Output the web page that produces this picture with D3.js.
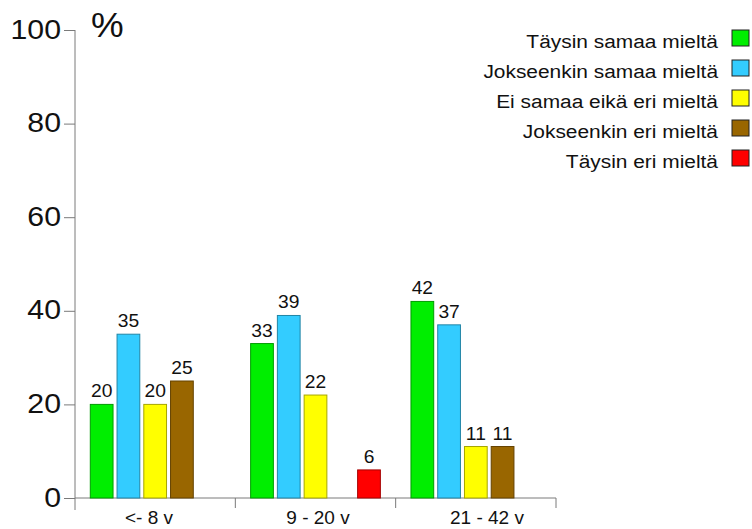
<!DOCTYPE html>
<html>
<head>
<meta charset="utf-8">
<script src="https://cdn.jsdelivr.net/npm/d3@7"></script>
<style>
  html, body { margin: 0; padding: 0; background: #fff; }
  svg { display: block; font-family: "Liberation Sans", Arial, sans-serif; }
</style>
</head>
<body>
<svg id="chart" width="752" height="529"></svg>
<script>
// Groups (years) and the five answer options
const groups = ["<- 8 v", "9 - 20 v", "21 - 42 v"];
const series = ["Täysin samaa mieltä", "Jokseenkin samaa mieltä", "Ei samaa eikä eri mieltä", "Jokseenkin eri mieltä", "Täysin eri mieltä"];
const colors = ["#00ee00", "#33ccff", "#ffff00", "#996600", "#ff0000"];
// Percentages per group, in series order (null = no bar)
const values = [
  [20, 35, 20, 25, null],
  [33, 39, 22, null, 6],
  [42, 37, 11, 11, null]
];
const yTicks = [0, 20, 40, 60, 80, 100];

const svg = d3.select("#chart");
const axisColor = "#7a7a7a";
const ink = "#111";

const x0 = d3.scaleBand().domain(groups).range([75, 556]).padding(0);
const x1 = d3.scaleBand().domain(series)
  .range([15.3, x0.bandwidth() - 15.3]).paddingInner(0.15).paddingOuter(0);
const y = d3.scaleLinear().domain([0, 100]).range([498, 30]);
// category captions sit on their own, slightly wider spacing
const xCap = d3.scalePoint().domain(groups).range([149, 487]);

// horizontally widened text helper
function wideText(sel, sx) {
  return sel.attr("transform", function () {
    const t = d3.select(this);
    return `translate(${t.attr("data-x")},${t.attr("data-y")}) scale(${sx},1)`;
  });
}

// Y axis
const yAxis = d3.axisLeft(y).tickValues(yTicks).tickSize(11).tickPadding(3);
const gy = svg.append("g").attr("transform", "translate(75,0)").call(yAxis);
gy.select(".domain").remove();
gy.selectAll(".tick line").attr("stroke", axisColor);
gy.selectAll(".tick text").attr("fill", ink).attr("font-size", 28).attr("dy", "0.29em")
  .attr("font-family", "Liberation Sans, Arial, sans-serif")
  .attr("x", null)
  .attr("transform", "translate(-14,0) scale(1.08,1)");
svg.append("line").attr("x1", 75).attr("x2", 75).attr("y1", 30).attr("y2", 510)
  .attr("stroke", axisColor);

svg.append("text").attr("transform", "translate(91,37) scale(1.05,1)")
  .attr("font-size", 35).attr("fill", ink).text("%");

// X axis with separators between groups
svg.append("line").attr("x1", 75).attr("x2", 556).attr("y1", y(0)).attr("y2", y(0))
  .attr("stroke", axisColor);
groups.forEach(g => {
  const xe = x0(g) + x0.bandwidth();
  svg.append("line").attr("x1", xe).attr("x2", xe).attr("y1", y(0)).attr("y2", y(0) + 10)
    .attr("stroke", axisColor);
});
svg.selectAll(".cat").data(groups).join("text")
  .attr("class", "cat")
  .attr("x", d => xCap(d)).attr("y", 524)
  .attr("text-anchor", "middle").attr("font-size", 19).attr("fill", ink)
  .text(d => d);

// Bars
const cells = [];
groups.forEach((g, gi) => series.forEach((s, si) => {
  if (values[gi][si] != null) cells.push({ g, s, si, v: values[gi][si] });
}));
const bars = svg.append("g");
bars.selectAll("rect").data(cells).join("rect")
  .attr("x", d => x0(d.g) + x1(d.s))
  .attr("y", d => y(d.v))
  .attr("width", x1.bandwidth())
  .attr("height", d => y(0) - y(d.v))
  .attr("fill", d => colors[d.si])
  .attr("stroke", d => d3.color(colors[d.si]).darker(1.2))
  .attr("stroke-width", 1);
bars.selectAll("text").data(cells).join("text")
  .attr("data-x", d => x0(d.g) + x1(d.s) + x1.bandwidth() / 2)
  .attr("data-y", d => y(d.v) - 7)
  .attr("text-anchor", "middle").attr("font-size", 17.5).attr("fill", ink)
  .text(d => d.v)
  .call(wideText, 1.1);

// Legend
const leg = svg.append("g");
series.forEach((s, i) => {
  const cy = 38 + i * 30;
  leg.append("rect").attr("x", 732).attr("y", cy - 8).attr("width", 17).attr("height", 16)
    .attr("fill", colors[i]).attr("stroke", "#222").attr("stroke-width", 1);
  leg.append("text").attr("data-x", 718).attr("data-y", cy + 10)
    .attr("text-anchor", "end").attr("font-size", 19).attr("fill", ink).text(s)
    .call(wideText, 1.1);
});
</script>
</body>
</html>
